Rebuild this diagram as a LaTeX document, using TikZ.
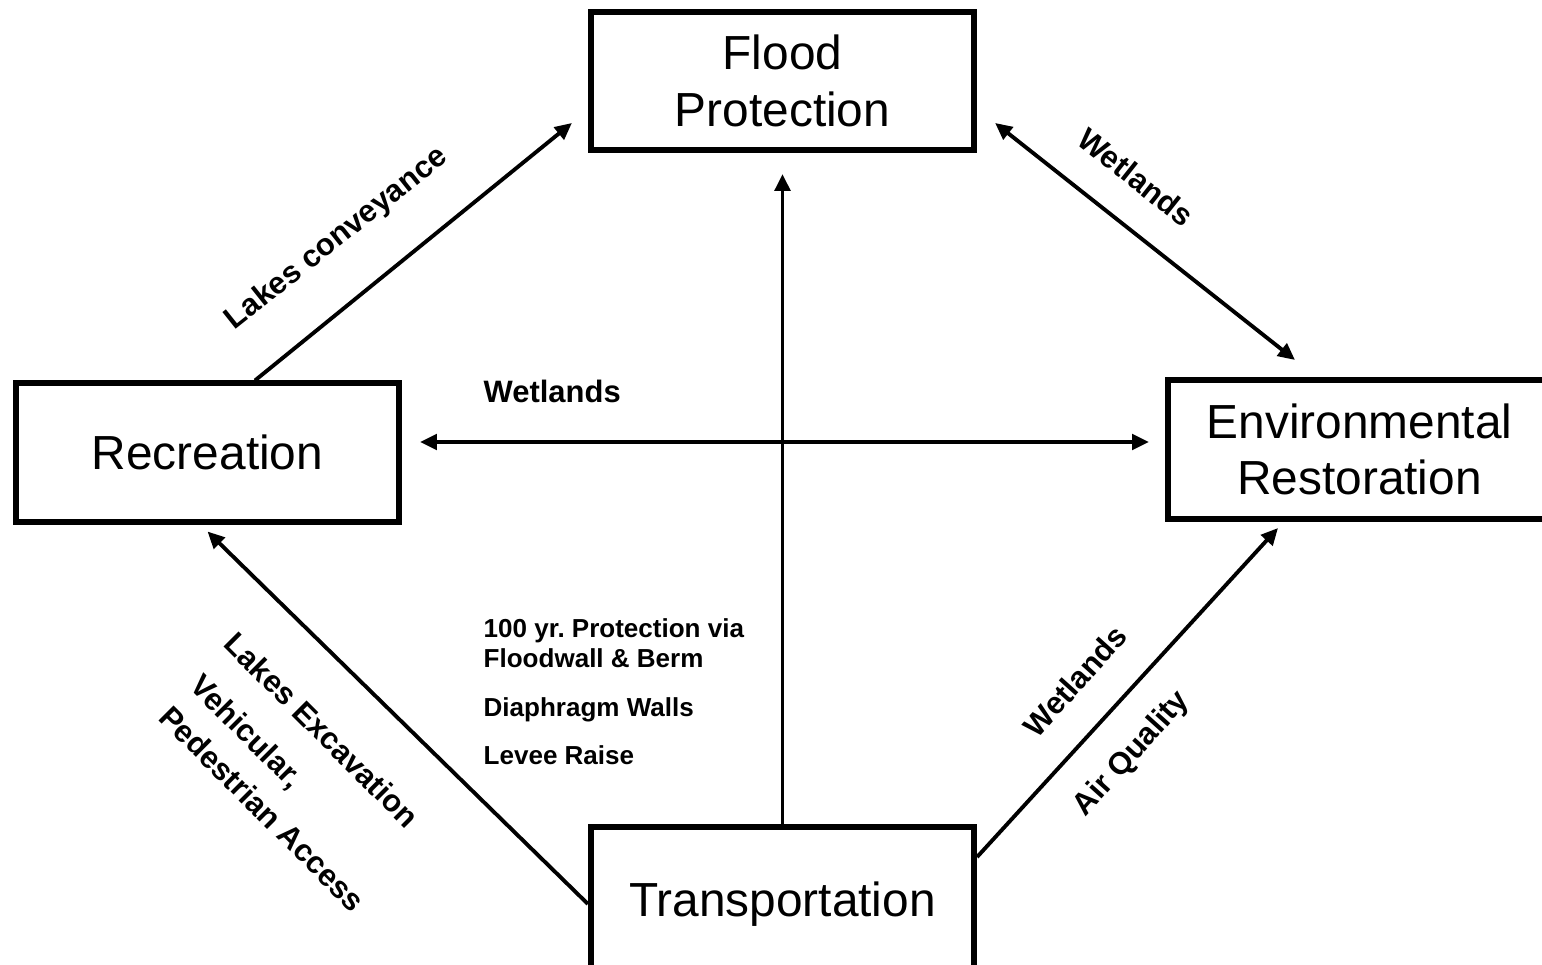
\documentclass[tikz,border=0pt]{standalone}
\usepackage{fontspec}
\setmainfont{Liberation Sans}
\usetikzlibrary{calc}
\usetikzlibrary{arrows.meta}

\begin{document}
\begin{tikzpicture}[x=0.01cm,y=-0.01cm,
	box/.style={draw,line width=1.7pt,minimum width=3.83cm,minimum height=1.38cm,inner sep=0pt,align=center,font=\fontsize{13.6}{16}\selectfont},
	link/.style={line width=1.1pt,-{Triangle[length=4.8pt,width=4.4pt]}},
	both/.style={line width=1.1pt,{Triangle[length=4.8pt,width=4.4pt]}-{Triangle[length=4.8pt,width=4.4pt]}},
	lbl/.style={font=\bfseries\fontsize{8.8}{12.5}\selectfont,inner sep=0pt,align=left},
	note/.style={font=\bfseries\fontsize{7.4}{8.8}\selectfont,inner sep=0pt,align=left,anchor=base west}]
			\clip (0,0) rectangle (1542,965);
			\node[box] (flood) at (782.5,81) {Flood\\Protection};
			\node[box] (rec) at (207.5,452.5) {Recreation};
			\node[box] (env) at (1359.5,449.5) {Environmental\\Restoration};
			\node[box,minimum height=1.53cm] (trans) at (782.5,904) {Transportation};
			\draw[link] ($(rec.north)+(47.5,0)$) -- ($(flood.west)+(-16,42)$);
			\draw[both] ($(flood.east)+(18,42)$) -- ($(env.north)+(-64.5,-17.5)$);
			\draw[both] ($(rec.east)+(18,-10.5)$) -- ($(env.west)+(-16,-7.5)$);
			\draw[link] (trans.north) -- ($(flood.south)+(0,21)$);
			\draw[link] ($(trans.west)+(0,0)$) -- ($(rec.south)+(0,7)$);
			\draw[link] ($(trans.east)+(0,-47)$) -- ($(env.south)+(-81.5,6.5)$);
			\node[lbl,rotate=38.5] (lconv) at (337,239) {Lakes conveyance};
			\node[lbl,rotate=-38.5] (wtop) at (1136,177) {Wetlands};
			\node[lbl,anchor=base west] (wmid) at (483,403) {Wetlands};
			\node[note] (hundred) at (483,668) {100 yr.\ Protection via\\Floodwall \& Berm};
			\node[note] (diaph) at (483,717) {Diaphragm Walls};
			\node[note] (levee) at (483,765) {Levee Raise};
			\node[lbl,rotate=-45] (lexc) at (322,730) {Lakes Excavation};
			\node[lbl,rotate=-45] (vped) at (278,793) {Vehicular,\\Pedestrian Access};
			\node[lbl,rotate=48] (wbot) at (1075,681) {Wetlands};
			\node[lbl,rotate=48] (air) at (1132,754) {Air Quality};
		\end{tikzpicture}
\end{document}
